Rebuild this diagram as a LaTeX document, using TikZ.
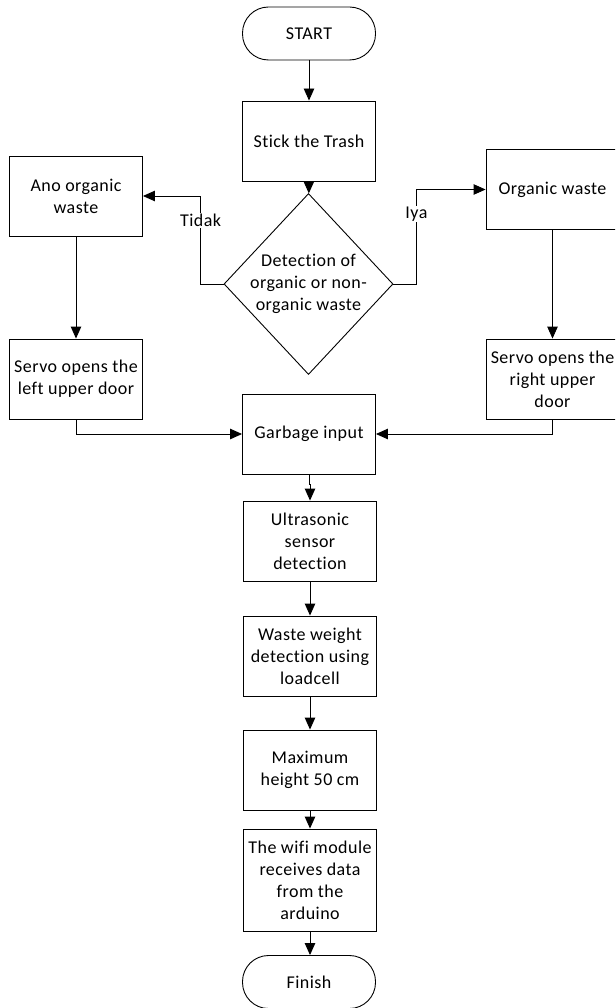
\documentclass[tikz,border=0pt]{standalone}
\usepackage{fontspec}
\setmainfont{Carlito}[Ligatures=NoCommon, LetterSpace=2.5]
\usetikzlibrary{shapes.geometric,arrows.meta}
\begin{document}
\begin{tikzpicture}[x=1pt,y=-1pt,
  font=\fontsize{18}{22}\selectfont,
  box/.style={draw, line width=0.9pt, minimum width=133pt, minimum height=80pt, inner sep=0pt, align=center},
  term/.style={draw, line width=0.9pt, rounded corners=26pt, minimum width=133pt, minimum height=53pt, inner sep=0pt},
  arr/.style={line width=0.9pt, -{Triangle[length=12pt,width=10.5pt]}},
  lab/.style={fill=white, inner sep=1pt}]
\path[use as bounding box, clip] (0,0) rectangle (615,1008);

\node[term] (start) at (309,33.5) {START};
\node[box] (stick) at (309,141) {Stick the Trash};
\node[diamond, draw, line width=0.9pt, minimum width=169pt, minimum height=181pt, inner sep=0pt] (dec) at (308.5,284) {};
\node[align=center, inner sep=0pt] (dectext) at (dec.center) {Detection of\\organic or non-\\organic waste};
\node[box] (ano) at (76,196) {Ano organic\\waste};
\node[box] (org) at (552.5,189.5) {Organic waste};
\node[box] (servl) at (76,379) {Servo opens the\\left upper door};
\node[box] (servr) at (552.5,379) {Servo opens the\\right upper\\door};
\node[box] (garb) at (309,434) {Garbage input};
\node[box] (ultra) at (310,541) {Ultrasonic\\sensor\\detection};
\node[box] (weight) at (310,656) {Waste weight\\detection using\\loadcell};
\node[box] (maxh) at (310,770) {Maximum\\height 50 cm};
\node[box, minimum height=102pt] (wifi) at (310,880) {The wifi module\\receives data\\from the\\arduino};
\node[term] (fin) at (309,982) {Finish};

\draw[arr] (start) -- (stick);
\draw[arr] (stick) -- (dec);
\draw[arr] (dec.west) -- ++(-23,0) |- node[lab, pos=0.36] (tidak) {Tidak} (ano.east);
\draw[arr] (dec.east) -- ++(23,0) |- node[lab, pos=0.37] (iya) {Iya} (org.west);
\draw[arr] (ano) -- (servl);
\draw[arr] (org) -- (servr);
\draw[arr] (servl.south) |- (garb.west);
\draw[arr] (servr.south) |- (garb.east);
\draw[arr] (garb.south) -- ++(0,10) -| (ultra.north);
\draw[arr] (ultra) -- (weight);
\draw[arr] (weight) -- (maxh);
\draw[arr] (maxh) -- (wifi);
\draw[arr] (wifi.south) -- (wifi.south |- fin.north);
\end{tikzpicture}
\end{document}
